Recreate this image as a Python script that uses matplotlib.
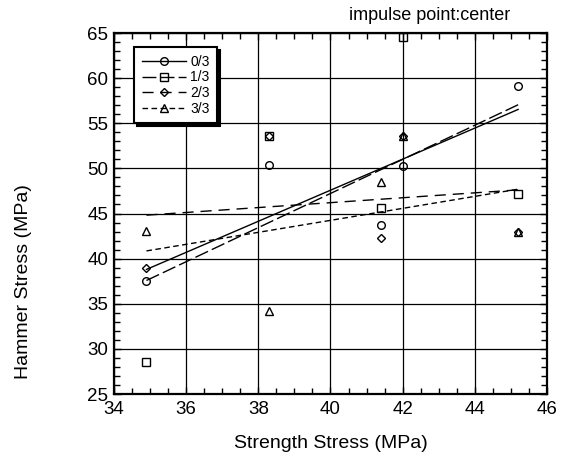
import numpy as np
import matplotlib
matplotlib.use("Agg")
import matplotlib.pyplot as plt
from matplotlib.ticker import MultipleLocator
from matplotlib.lines import Line2D

plt.rcParams['font.family'] = ['Liberation Sans', 'DejaVu Sans']

# strength stress of each test (MPa)
strength = [34.9, 38.3, 41.4, 42.0, 45.2]
# hammer stress for each height ratio (MPa)
ratio_labels = ['0/3', '1/3', '2/3', '3/3']
hammer_0_3 = [37.5, 50.4, 43.7, 50.3, 59.1]
hammer_1_3 = [28.5, 53.6, 45.6, 64.6, 47.2]
hammer_2_3 = [39.0, 53.6, 42.3, 53.6, 43.0]
hammer_3_3 = [43.1, 34.2, 48.5, 53.6, 43.0]

series = [hammer_0_3, hammer_1_3, hammer_2_3, hammer_3_3]
markers = ['o', 's', 'D', '^']
msizes = [5.5, 5.5, 4, 5.5]
styles = ['-', (0, (10, 3)), (0, (8, 5)), (0, (4, 2.5))]

fig = plt.figure(figsize=(5.63, 4.61), dpi=100)
ax = fig.add_axes([114 / 563, 67 / 461, 433 / 563, 361 / 461])

x = np.array(strength)
xfit = np.array([x.min(), x.max()])
handles = []
for ys, lab, mk, ms, ls in zip(series, ratio_labels, markers, msizes, styles):
    ys = np.array(ys)
    ax.plot(x, ys, linestyle='none', marker=mk, ms=ms, mfc='none',
            mec='k', mew=1.0, clip_on=False)
    k, b = np.polyfit(x, ys, 1)
    ax.plot(xfit, k * xfit + b, color='k', lw=1.0, linestyle=ls)
    handles.append(Line2D([], [], color='k', lw=1.0, linestyle=ls, marker=mk,
                          ms=ms, mfc='none', mec='k', mew=1.0))

ax.set_xlim(34, 46)
ax.set_ylim(25, 65)
ax.xaxis.set_major_locator(MultipleLocator(2))
ax.xaxis.set_minor_locator(MultipleLocator(0.5))
ax.yaxis.set_major_locator(MultipleLocator(5))
ax.yaxis.set_minor_locator(MultipleLocator(1))
ax.grid(True, which='major', color='k', lw=0.9)
ax.tick_params(which='both', direction='in', top=True, right=True,
               labelsize=13.5, width=1)
ax.tick_params(which='major', length=5)
ax.tick_params(which='minor', length=4)
ax.tick_params(axis='y', pad=4)
ax.tick_params(axis='x', pad=5)
for sp in ax.spines.values():
    sp.set_linewidth(1.6)

leg = ax.legend(handles, ratio_labels, loc='upper left',
                bbox_to_anchor=(0.03, 0.98), fontsize=10, handlelength=3.2,
                labelspacing=0.12, handletextpad=0.3, borderpad=0.55,
                fancybox=False, framealpha=1, edgecolor='k',
                shadow={'color': 'k', 'alpha': 1})
leg.get_frame().set_linewidth(1.5)

fig.text(24 / 563, 1 - 282 / 461, 'Hammer Stress (MPa)', rotation=90,
         ha='center', va='center', fontsize=14)
fig.text(331 / 563, 1 - 443 / 461, 'Strength Stress (MPa)',
         ha='center', va='center', fontsize=14)
fig.text(430 / 563, 1 - 15 / 461, 'impulse point:center',
         ha='center', va='center', fontsize=13)

fig.savefig('out.png', dpi=100)
